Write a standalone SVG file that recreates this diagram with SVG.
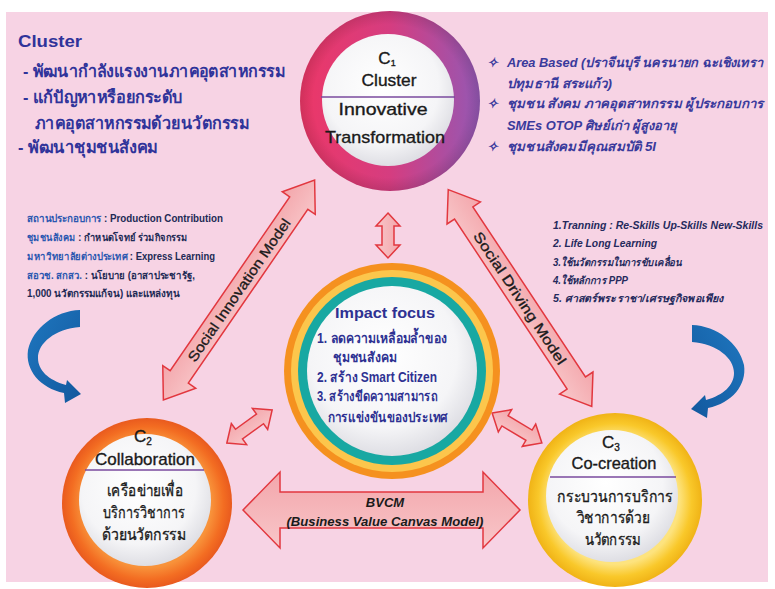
<svg xmlns="http://www.w3.org/2000/svg" width="775" height="589" viewBox="0 0 775 589">
<defs>
  <linearGradient id="gC1" x1="0" y1="0" x2="1" y2="0">
    <stop offset="0" stop-color="#ec3767"/>
    <stop offset="0.5" stop-color="#d53d80"/>
    <stop offset="1" stop-color="#9458b4"/>
  </linearGradient>
  <radialGradient id="gC2">
    <stop offset="0.76" stop-color="#f8923a"/>
    <stop offset="0.9" stop-color="#f36d22"/>
    <stop offset="1" stop-color="#e95a1e"/>
  </radialGradient>
  <radialGradient id="gC3">
    <stop offset="0.74" stop-color="#fde37e"/>
    <stop offset="0.88" stop-color="#f9c82a"/>
    <stop offset="1" stop-color="#f0b316"/>
  </radialGradient>
  <radialGradient id="gEdge">
    <stop offset="0.85" stop-color="#000" stop-opacity="0"/>
    <stop offset="1" stop-color="#000" stop-opacity="0.12"/>
  </radialGradient>
  <radialGradient id="gWhite" cx="0.45" cy="0.4" r="0.62">
    <stop offset="0" stop-color="#ffffff"/>
    <stop offset="0.7" stop-color="#f5f5f7"/>
    <stop offset="1" stop-color="#dcdce2"/>
  </radialGradient>
  <linearGradient id="gArrow" x1="0" y1="0" x2="0" y2="1">
    <stop offset="0" stop-color="#f3a6ab"/>
    <stop offset="1" stop-color="#f8c6c9"/>
  </linearGradient>
  <linearGradient id="gBlue" x1="0" y1="0" x2="1" y2="1">
    <stop offset="0" stop-color="#1f77bf"/>
    <stop offset="1" stop-color="#12589e"/>
  </linearGradient>
  <path id="blueArrow" d="M 80,310 C 55,311 33,328 28,350 C 25,370 40,388 64,393 L 65,403 L 81,394 L 67,380 L 66,385 C 48,380 38,370 38,358 C 38,343 55,329 80,327 Z"/>
  <style>
    .arrow { fill: url(#gArrow); stroke: #e2373f; stroke-width: 1.5; stroke-linejoin: miter; }
    .blue { fill: url(#gBlue); }
    .cl { font-family: "Liberation Sans", "Noto Sans", sans-serif; font-weight: bold; fill: #30339a; font-size: 17px; }
    .tr { font-family: "Liberation Sans", "Noto Sans", sans-serif; font-weight: bold; font-style: italic; fill: #3a3a9c; font-size: 13px; }
    .lm { font-family: "Liberation Sans", "Noto Sans", sans-serif; font-weight: bold; fill: #222a55; font-size: 10px; }
    .lmk { fill: #2b57b0; }
    .rm { font-family: "Liberation Sans", "Noto Sans", sans-serif; font-weight: bold; font-style: italic; fill: #252a5c; font-size: 10.5px; }
    .ct { font-family: "Liberation Sans", "Noto Sans", sans-serif; font-weight: bold; fill: #2e3192; font-size: 14px; }
    .nd { font-family: "Liberation Sans", "Noto Sans", sans-serif; fill: #1a1a1a; font-size: 17px; stroke: #1a1a1a; stroke-width: 0.35; text-anchor: middle; }
    .ndt { font-family: "Liberation Sans", "Noto Sans", sans-serif; fill: #1a1a1a; font-size: 16px; stroke: #1a1a1a; stroke-width: 0.3; text-anchor: middle; }
    .at { font-family: "Liberation Sans", "Noto Sans", sans-serif; fill: #1a1a1a; font-size: 14px; stroke: #1a1a1a; stroke-width: 0.3; text-anchor: middle; }
    .bv { font-family: "Liberation Sans", "Noto Sans", sans-serif; fill: #1a1a1a; font-size: 13px; font-weight: bold; font-style: italic; text-anchor: middle; }
    .div { stroke: #7a4a9e; stroke-width: 1.6; }
  </style>
</defs>

<rect x="0" y="0" width="775" height="589" fill="#ffffff"/>
<rect x="6" y="12" width="762" height="570" fill="#f7d3e4"/>

<!-- connectors -->
<g id="connectors">
  <path class="arrow" transform="translate(239,290) rotate(-55.5)" d="M -133.5,0 L -105.5,-20 L -105.5,-11 L 105.5,-11 L 105.5,-20 L 133.5,0 L 105.5,20 L 105.5,11 L -105.5,11 L -105.5,20 Z"/>
  <text class="at" transform="translate(239,290) rotate(-55.5)" x="0" y="5" textLength="170" lengthAdjust="spacingAndGlyphs">Social Innovation Model</text>
  <path class="arrow" transform="translate(520,298) rotate(56.5)" d="M -130,0 L -102,-20 L -102,-11 L 102,-11 L 102,-20 L 130,0 L 102,20 L 102,11 L -102,11 L -102,20 Z"/>
  <text class="at" transform="translate(520,298) rotate(56.5)" x="0" y="5" textLength="156" lengthAdjust="spacingAndGlyphs">Social Driving Model</text>
  <path class="arrow" transform="translate(381.5,510)" d="M -138.5,0 L -101.5,-38 L -101.5,-18 L 101.5,-18 L 101.5,-38 L 138.5,0 L 101.5,38 L 101.5,18 L -101.5,18 L -101.5,38 Z"/>
  <text class="bv" x="385" y="507">BVCM</text>
  <text class="bv" x="385" y="526" textLength="197" lengthAdjust="spacingAndGlyphs">(Business Value Canvas Model)</text>
  <path class="arrow" transform="translate(388,235.5) rotate(90)" d="M -22.5,0 L -9.5,-12 L -9.5,-6 L 9.5,-6 L 9.5,-12 L 22.5,0 L 9.5,12 L 9.5,6 L -9.5,6 L -9.5,12 Z"/>
  <path class="arrow" transform="translate(249.5,426.5) rotate(-36)" d="M -28,0 L -13,-13 L -13,-6 L 13,-6 L 13,-13 L 28,0 L 13,13 L 13,6 L -13,6 L -13,13 Z"/>
  <path class="arrow" transform="translate(517,428) rotate(31)" d="M -29,0 L -14,-13 L -14,-6 L 14,-6 L 14,-13 L 29,0 L 14,13 L 14,6 L -14,6 L -14,13 Z"/>
  <use href="#blueArrow" class="blue"/>
  <use href="#blueArrow" class="blue" transform="translate(772,15) scale(-1,1)"/>
</g>

<!-- top-left text -->
<g id="cluster-text">
  <text class="cl" x="18" y="47" textLength="64" lengthAdjust="spacingAndGlyphs">Cluster</text>
  <text class="cl" x="23" y="77" textLength="262" lengthAdjust="spacingAndGlyphs">- พัฒนากำลังแรงงานภาคอุตสาหกรรม</text>
  <text class="cl" x="23" y="103" textLength="160" lengthAdjust="spacingAndGlyphs">- แก้ปัญหาหรือยกระดับ</text>
  <text class="cl" x="35" y="129" textLength="214" lengthAdjust="spacingAndGlyphs">ภาคอุตสาหกรรมด้วยนวัตกรรม</text>
  <text class="cl" x="18" y="153" textLength="140" lengthAdjust="spacingAndGlyphs">- พัฒนาชุมชนสังคม</text>
</g>

<!-- top-right text -->
<g id="area-text">
  <text class="tr" x="487" y="67">✧</text>
  <text class="tr" x="507" y="67" textLength="256" lengthAdjust="spacingAndGlyphs">Area Based (ปราจีนบุรี นครนายก ฉะเชิงเทรา</text>
  <text class="tr" x="507" y="88" textLength="105" lengthAdjust="spacingAndGlyphs">ปทุมธานี สระแก้ว)</text>
  <text class="tr" x="487" y="108">✧</text>
  <text class="tr" x="507" y="108" textLength="256" lengthAdjust="spacingAndGlyphs">ชุมชน สังคม ภาคอุตสาหกรรม ผู้ประกอบการ</text>
  <text class="tr" x="507" y="130" textLength="170" lengthAdjust="spacingAndGlyphs">SMEs OTOP ศิษย์เก่า ผู้สูงอายุ</text>
  <text class="tr" x="487" y="151">✧</text>
  <text class="tr" x="507" y="151" textLength="149" lengthAdjust="spacingAndGlyphs">ชุมชนสังคมมีคุณสมบัติ 5I</text>
</g>

<!-- left-middle text -->
<g id="partners-text">
  <text class="lm" x="27" y="222" textLength="196" lengthAdjust="spacingAndGlyphs"><tspan class="lmk">สถานประกอบการ</tspan> : Production Contribution</text>
  <text class="lm" x="27" y="241" textLength="160" lengthAdjust="spacingAndGlyphs"><tspan class="lmk">ชุมชนสังคม</tspan> : กำหนดโจทย์ ร่วมกิจกรรม</text>
  <text class="lm" x="27" y="260" textLength="188" lengthAdjust="spacingAndGlyphs"><tspan class="lmk">มหาวิทยาลัยต่างประเทศ</tspan> : Express Learning</text>
  <text class="lm" x="27" y="278.5" textLength="168" lengthAdjust="spacingAndGlyphs"><tspan class="lmk">สอวช. สกสว.</tspan> : นโยบาย (อาสาประชารัฐ,</text>
  <text class="lm" x="27" y="297" textLength="153" lengthAdjust="spacingAndGlyphs">1,000 นวัตกรรมแก้จน) และแหล่งทุน</text>
</g>

<!-- right-middle text -->
<g id="skills-text">
  <text class="rm" x="553" y="229" textLength="210" lengthAdjust="spacingAndGlyphs">1.Tranning : Re-Skills Up-Skills New-Skills</text>
  <text class="rm" x="553" y="247" textLength="104" lengthAdjust="spacingAndGlyphs">2. Life Long Learning</text>
  <text class="rm" x="553" y="266" textLength="128" lengthAdjust="spacingAndGlyphs">3.ใช้นวัตกรรมในการขับเคลื่อน</text>
  <text class="rm" x="553" y="284" textLength="75" lengthAdjust="spacingAndGlyphs">4.ใช้หลักการ PPP</text>
  <text class="rm" x="553" y="302" textLength="170" lengthAdjust="spacingAndGlyphs">5. ศาสตร์พระราชา/เศรษฐกิจพอเพียง</text>
</g>

<!-- C1 -->
<g id="c1-cluster">
  <circle cx="390" cy="101" r="90" fill="url(#gC1)"/>
  <circle cx="390" cy="101" r="90" fill="url(#gEdge)"/>
  <circle cx="388" cy="100" r="66" fill="url(#gWhite)"/>
  <text class="nd" x="387" y="64" font-size="16">C<tspan font-size="9" dy="2">1</tspan></text>
  <text class="nd" x="389" y="86" textLength="55" lengthAdjust="spacingAndGlyphs">Cluster</text>
  <line class="div" x1="321" y1="97" x2="455" y2="97"/>
  <text class="nd" x="383" y="115" textLength="89" lengthAdjust="spacingAndGlyphs">Innovative</text>
  <text class="nd" x="385" y="143" textLength="120" lengthAdjust="spacingAndGlyphs">Transformation</text>
</g>

<!-- Center -->
<g id="impact-focus">
  <circle cx="392" cy="371" r="108" fill="#f5911f"/>
  <circle cx="392" cy="371" r="101" fill="#fcc64c"/>
  <circle cx="392" cy="371" r="94" fill="#18a8a2"/>
  <circle cx="392" cy="371" r="85" fill="url(#gWhite)"/>
  <text class="ct" x="385" y="318" font-size="18" text-anchor="middle" textLength="100" lengthAdjust="spacingAndGlyphs">Impact focus</text>
  <text class="ct" x="317" y="343" textLength="130" lengthAdjust="spacingAndGlyphs">1. ลดความเหลื่อมล้ำของ</text>
  <text class="ct" x="333" y="362" textLength="64" lengthAdjust="spacingAndGlyphs">ชุมชนสังคม</text>
  <text class="ct" x="317" y="382" textLength="120" lengthAdjust="spacingAndGlyphs">2. สร้าง Smart Citizen</text>
  <text class="ct" x="317" y="401" textLength="120" lengthAdjust="spacingAndGlyphs">3. สร้างขีดความสามารถ</text>
  <text class="ct" x="328" y="422" textLength="120" lengthAdjust="spacingAndGlyphs">การแข่งขันของประเทศ</text>
</g>

<!-- C2 -->
<g id="c2-collaboration">
  <circle cx="147" cy="503" r="85" fill="url(#gC2)"/>
  <circle cx="145" cy="500" r="66" fill="url(#gWhite)"/>
  <text class="nd" x="143" y="442">C<tspan font-size="10" dy="3">2</tspan></text>
  <text class="nd" x="145" y="465" textLength="100" lengthAdjust="spacingAndGlyphs">Collaboration</text>
  <line class="div" x1="85" y1="470" x2="204" y2="470"/>
  <text class="ndt" x="145" y="496" textLength="76" lengthAdjust="spacingAndGlyphs">เครือข่ายเพื่อ</text>
  <text class="ndt" x="144" y="518" textLength="82" lengthAdjust="spacingAndGlyphs">บริการวิชาการ</text>
  <text class="ndt" x="144.5" y="540" textLength="85" lengthAdjust="spacingAndGlyphs">ด้วยนวัตกรรม</text>
</g>

<!-- C3 -->
<g id="c3-cocreation">
  <circle cx="615" cy="500" r="87" fill="url(#gC3)"/>
  <circle cx="612" cy="496" r="66" fill="url(#gWhite)"/>
  <text class="nd" x="611" y="448">C<tspan font-size="10" dy="3">3</tspan></text>
  <text class="nd" x="614" y="469" textLength="85" lengthAdjust="spacingAndGlyphs">Co-creation</text>
  <line class="div" x1="550" y1="477" x2="676" y2="477"/>
  <text class="ndt" x="615" y="502" textLength="116" lengthAdjust="spacingAndGlyphs">กระบวนการบริการ</text>
  <text class="ndt" x="613" y="523" textLength="73" lengthAdjust="spacingAndGlyphs">วิชาการด้วย</text>
  <text class="ndt" x="613" y="545" textLength="57" lengthAdjust="spacingAndGlyphs">นวัตกรรม</text>
</g>
</svg>
